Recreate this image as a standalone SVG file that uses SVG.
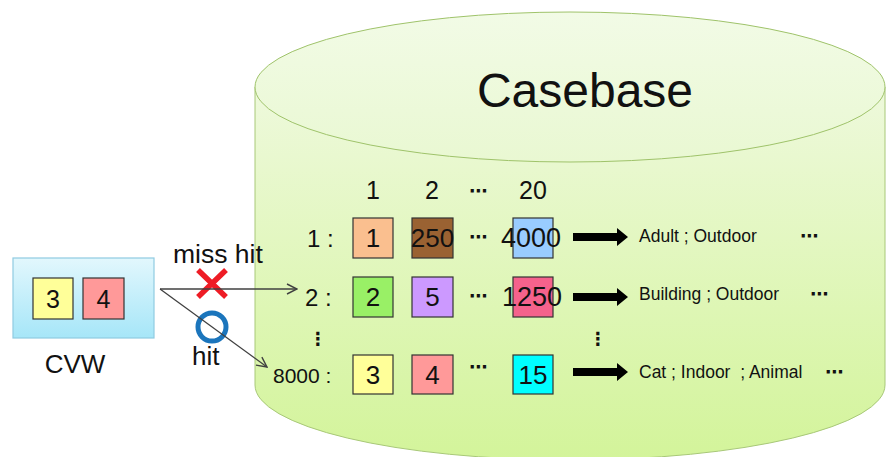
<svg xmlns="http://www.w3.org/2000/svg" width="886" height="457" viewBox="0 0 886 457">
<defs>
<linearGradient id="body" x1="0" y1="0" x2="0" y2="1">
<stop offset="0" stop-color="#eef9dc"/>
<stop offset="1" stop-color="#d3f49a"/>
</linearGradient>
<linearGradient id="top" x1="0" y1="0" x2="0" y2="1">
<stop offset="0" stop-color="#f2fbe6"/>
<stop offset="1" stop-color="#e9f8d2"/>
</linearGradient>
<linearGradient id="cvw" x1="0" y1="0" x2="0" y2="1">
<stop offset="0" stop-color="#e2f7fd"/>
<stop offset="1" stop-color="#a6e6f8"/>
</linearGradient>
<marker id="open" viewBox="0 0 12 12" refX="11" refY="6" markerWidth="12" markerHeight="12" markerUnits="userSpaceOnUse" orient="auto">
<path d="M1,1 L11,6 L1,11" fill="none" stroke="#404040" stroke-width="1.4"/>
</marker>
</defs>
<style>
.t{font-family:"Liberation Sans",Arial,sans-serif;fill:#111}
.c{text-anchor:middle}
.box{stroke:#333;stroke-width:1.2}
.dots{font-family:"DejaVu Sans",sans-serif;font-size:18px;font-weight:bold;fill:#111;text-anchor:middle}
.vd{font-family:"DejaVu Sans",sans-serif;font-size:18px;font-weight:bold;fill:#111;text-anchor:middle}
.conn{stroke:#404040;stroke-width:1.3;fill:none}
</style>

<g id="casebase">
<path d="M255,87 L255,385 A315,75 0 0 0 885,385 L885,87 Z" fill="url(#body)" stroke="#a8c878" stroke-width="1"/>
<ellipse cx="570" cy="87" rx="315" ry="75" fill="url(#top)" stroke="#9fc36a" stroke-width="1"/>
<text class="t c" x="585" y="107" font-size="48">Casebase</text>
</g>

<g id="cvw">
<rect x="13" y="258" width="141" height="80" fill="url(#cvw)" stroke="#8fcbe2" stroke-width="1.2"/>
<rect class="box" x="33" y="278" width="40" height="41" fill="#ffff99"/>
<text class="t c" x="53" y="308" font-size="25">3</text>
<rect class="box" x="83" y="278" width="41" height="41" fill="#ff9999"/>
<text class="t c" x="103.5" y="308" font-size="25">4</text>
<text class="t c" x="75" y="373" font-size="26">CVW</text>
</g>

<g id="headers">
<text class="t c" x="373" y="199" font-size="25">1</text>
<text class="t c" x="432" y="199" font-size="25">2</text>
<text class="dots" x="478" y="197">⋯</text>
<text class="t c" x="533" y="199" font-size="25">20</text>
</g>

<g id="row1">
<text class="t" x="307" y="247" font-size="24">1 :</text>
<rect class="box" x="353" y="218" width="40" height="40" fill="#fabf8f"/>
<text class="t c" x="373" y="247" font-size="26">1</text>
<rect class="box" x="412" y="218" width="41" height="40" fill="#9a6232"/>
<text class="t c" x="432.5" y="247" font-size="26">250</text>
<text class="dots" x="478" y="243">⋯</text>
<rect class="box" x="513" y="218" width="40" height="40" fill="#99ccff"/>
<text class="t c" x="531" y="247" font-size="27">4000</text>
<text class="t" x="639" y="242" font-size="17.5">Adult ; Outdoor</text>
<text class="dots" x="809" y="242">⋯</text>
</g>

<g id="row2">
<text class="t" x="305" y="306" font-size="24">2 :</text>
<rect class="box" x="353" y="277" width="40" height="40" fill="#99f066"/>
<text class="t c" x="373" y="306" font-size="26">2</text>
<rect class="box" x="412" y="277" width="41" height="40" fill="#cc99ff"/>
<text class="t c" x="432.5" y="306" font-size="26">5</text>
<text class="dots" x="478" y="302">⋯</text>
<rect class="box" x="513" y="277" width="40" height="40" fill="#f5628c"/>
<text class="t c" x="532" y="306" font-size="27">1250</text>
<text class="t" x="639" y="300" font-size="17.5">Building ; Outdoor</text>
<text class="dots" x="819" y="300">⋯</text>
</g>

<g id="vdots">
<text class="vd" x="318" y="345">⋮</text>
<text class="vd" x="598" y="345">⋮</text>
</g>

<g id="row3">
<text class="t" x="273" y="383" font-size="21">8000 :</text>
<rect class="box" x="353" y="355" width="40" height="39" fill="#ffff99"/>
<text class="t c" x="373" y="384" font-size="26">3</text>
<rect class="box" x="412" y="355" width="41" height="39" fill="#ff9999"/>
<text class="t c" x="432.5" y="384" font-size="26">4</text>
<text class="dots" x="478" y="373">⋯</text>
<rect class="box" x="513" y="355" width="40" height="39" fill="#00ffff"/>
<text class="t c" x="533" y="384" font-size="26">15</text>
<text class="t" x="639" y="378" font-size="17.5" xml:space="preserve" style="white-space:pre">Cat ; Indoor  ; Animal</text>
<text class="dots" x="834" y="378">⋯</text>
</g>

<g id="marks">
<text class="t" x="173" y="263" font-size="26.5">miss hit</text>
<path d="M198,270 L226,297 M226,270 L198,297" stroke="#ee1c25" stroke-width="5.5" fill="none"/>
<circle cx="212" cy="327" r="14" fill="none" stroke="#1b75bc" stroke-width="5"/>
<text class="t" x="192" y="365" font-size="26">hit</text>
</g>

<g id="connectors">
<path class="conn" d="M160,289 L297,289" marker-end="url(#open)"/>
<path class="conn" d="M160,289 L267,367" marker-end="url(#open)"/>
<polygon points="573,233 617,233 617,228 628,237 617,246 617,241 573,241" fill="#000"/>
<polygon points="573,293 617,293 617,288 628,297 617,306 617,301 573,301" fill="#000"/>
<polygon points="573,368 617,368 617,363 628,372 617,381 617,376 573,376" fill="#000"/>
</g>
</svg>
